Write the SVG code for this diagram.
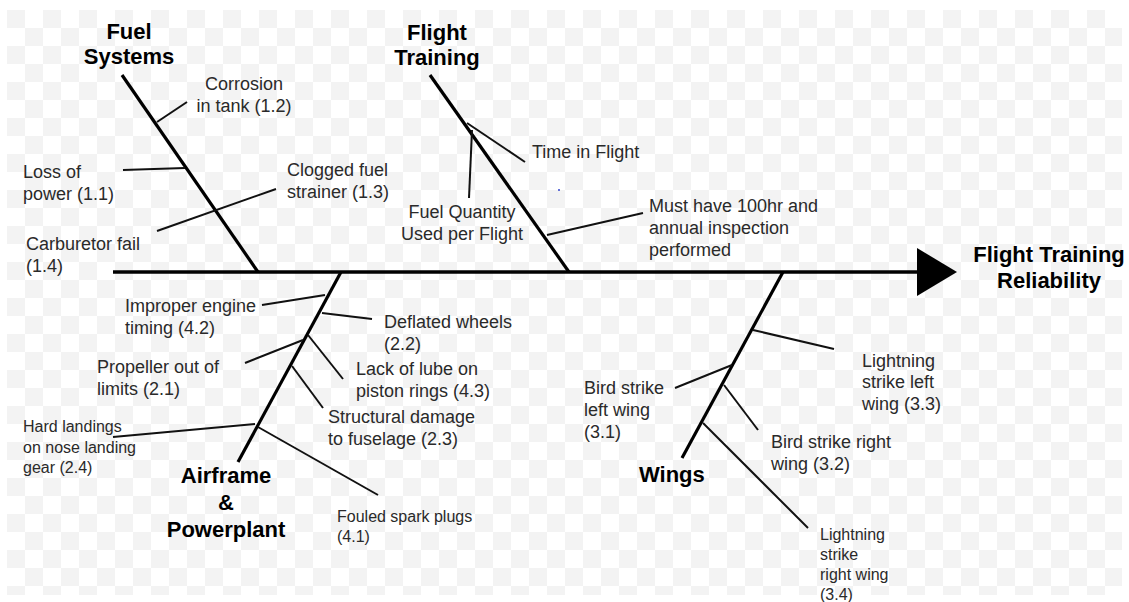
<svg xmlns="http://www.w3.org/2000/svg" width="1129" height="602" viewBox="0 0 1129 602">
  <defs>
    <pattern id="checker" x="7" y="10" width="36" height="36" patternUnits="userSpaceOnUse">
      <rect x="0" y="0" width="18" height="18" fill="#f3f3f3"/>
      <rect x="18" y="18" width="18" height="18" fill="#f3f3f3"/>
    </pattern>
  </defs>
  <style>
    .spine { stroke: #000; stroke-width: 3.5; fill: none; }
    .bone { stroke: #000; stroke-width: 3.2; fill: none; stroke-linecap: butt; }
    .twig { stroke: #111; stroke-width: 2; fill: none; }
    .title { font-family: "Liberation Sans", Arial, sans-serif; font-weight: bold; font-size: 22px; fill: #000; }
    .label { font-family: "Liberation Sans", Arial, sans-serif; font-size: 18px; fill: #2a2a2a; }
    .small { font-family: "Liberation Sans", Arial, sans-serif; font-size: 16px; fill: #2a2a2a; }
  </style>

  <rect width="1129" height="602" fill="#fff"/>
  <rect x="7" y="10" width="1115" height="585" fill="url(#checker)"/>

  <!-- effect line and head -->
  <g id="effect">
    <line class="spine" x1="113" y1="272" x2="920" y2="272"/>
    <polygon points="917,248 957,272 917,296" fill="#000"/>
    <text class="title" text-anchor="middle" x="1049" y="262">Flight Training</text>
    <text class="title" text-anchor="middle" x="1049" y="288">Reliability</text>
  </g>

  <!-- connectors: category bones and cause twigs -->
  <g id="connectors">
    <!-- Fuel Systems -->
    <line class="bone" x1="122" y1="75" x2="258" y2="272"/>
    <line class="twig" x1="157" y1="122" x2="187" y2="102"/>
    <line class="twig" x1="123" y1="170" x2="185" y2="168"/>
    <line class="twig" x1="157" y1="231" x2="276" y2="189"/>
    <!-- Flight Training -->
    <line class="bone" x1="430" y1="75" x2="569" y2="272"/>
    <line class="twig" x1="467" y1="123" x2="525" y2="162"/>
    <line class="twig" x1="472" y1="130" x2="469" y2="198"/>
    <line class="twig" x1="547" y1="235" x2="643" y2="213"/>
    <!-- Airframe & Powerplant -->
    <line class="bone" x1="341" y1="272" x2="238" y2="462"/>
    <line class="twig" x1="262" y1="305" x2="325" y2="295"/>
    <line class="twig" x1="322" y1="313" x2="372" y2="319"/>
    <line class="twig" x1="245" y1="363" x2="303" y2="340"/>
    <line class="twig" x1="308" y1="335" x2="343" y2="379"/>
    <line class="twig" x1="292" y1="366" x2="323" y2="408"/>
    <line class="twig" x1="113" y1="437" x2="255" y2="424"/>
    <line class="twig" x1="258" y1="427" x2="378" y2="495"/>
    <!-- Wings -->
    <line class="bone" x1="783" y1="272" x2="682" y2="458"/>
    <line class="twig" x1="753" y1="330" x2="834" y2="349"/>
    <line class="twig" x1="675" y1="388" x2="732" y2="365"/>
    <line class="twig" x1="724" y1="385" x2="758" y2="430"/>
    <line class="twig" x1="703" y1="423" x2="808" y2="528"/>
  </g>

  <g id="fuel-systems">
    <text class="title" text-anchor="middle" x="129" y="39">Fuel</text>
    <text class="title" text-anchor="middle" x="129" y="64">Systems</text>
    <text class="label" text-anchor="middle" x="244" y="90">Corrosion</text>
    <text class="label" text-anchor="middle" x="244" y="112">in tank (1.2)</text>
    <text class="label" x="23" y="178">Loss of</text>
    <text class="label" x="23" y="200">power (1.1)</text>
    <text class="label" x="287" y="176">Clogged fuel</text>
    <text class="label" x="287" y="198">strainer (1.3)</text>
    <text class="label" x="26" y="250">Carburetor fail</text>
    <text class="label" x="26" y="272">(1.4)</text>
  </g>

  <g id="flight-training">
    <text class="title" text-anchor="middle" x="437" y="40">Flight</text>
    <text class="title" text-anchor="middle" x="437" y="65">Training</text>
    <text class="label" x="532" y="158">Time in Flight</text>
    <text class="label" text-anchor="middle" x="462" y="218">Fuel Quantity</text>
    <text class="label" text-anchor="middle" x="462" y="240">Used per Flight</text>
    <text class="label" x="649" y="212">Must have 100hr and</text>
    <text class="label" x="649" y="234">annual inspection</text>
    <text class="label" x="649" y="256">performed</text>
    <circle cx="559" cy="190" r="1" fill="#3344cc"/>
  </g>

  <g id="airframe-powerplant">
    <text class="title" text-anchor="middle" x="226" y="483">Airframe</text>
    <text class="title" text-anchor="middle" x="226" y="510">&amp;</text>
    <text class="title" text-anchor="middle" x="226" y="537">Powerplant</text>
    <text class="label" x="125" y="312">Improper engine</text>
    <text class="label" x="125" y="334">timing (4.2)</text>
    <text class="label" x="384" y="328">Deflated wheels</text>
    <text class="label" x="384" y="350">(2.2)</text>
    <text class="label" x="97" y="373">Propeller out of</text>
    <text class="label" x="97" y="395">limits (2.1)</text>
    <text class="label" x="356" y="375">Lack of lube on</text>
    <text class="label" x="356" y="397">piston rings (4.3)</text>
    <text class="label" x="328" y="423">Structural damage</text>
    <text class="label" x="328" y="445">to fuselage (2.3)</text>
    <text class="small" x="23" y="432">Hard landings</text>
    <text class="small" x="23" y="453">on nose landing</text>
    <text class="small" x="23" y="473">gear (2.4)</text>
    <text class="small" x="337" y="522">Fouled spark plugs</text>
    <text class="small" x="337" y="542">(4.1)</text>
  </g>

  <g id="wings">
    <text class="title" x="639" y="482">Wings</text>
    <text class="label" x="862" y="367">Lightning</text>
    <text class="label" x="862" y="388">strike left</text>
    <text class="label" x="862" y="410">wing (3.3)</text>
    <text class="label" x="584" y="394">Bird strike</text>
    <text class="label" x="584" y="416">left wing</text>
    <text class="label" x="584" y="438">(3.1)</text>
    <text class="label" x="771" y="448">Bird strike right</text>
    <text class="label" x="771" y="470">wing (3.2)</text>
    <text class="small" x="820" y="540">Lightning</text>
    <text class="small" x="820" y="560">strike</text>
    <text class="small" x="820" y="580">right wing</text>
    <text class="small" x="820" y="600">(3.4)</text>
  </g>
</svg>
